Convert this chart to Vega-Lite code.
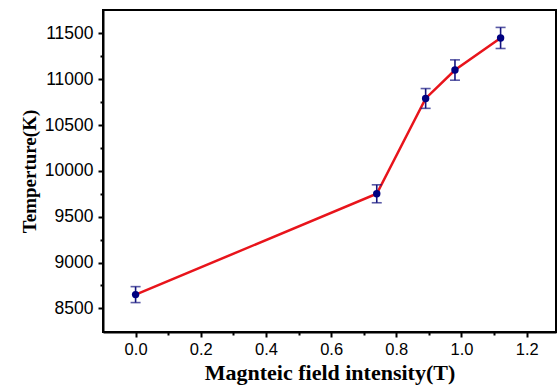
{
  "$schema": "https://vega.github.io/schema/vega-lite/v6.json",
  "width": 453,
  "height": 322,
  "autosize": "none",
  "padding": {"left": 103, "top": 10, "right": 1, "bottom": 53},
  "background": "white",
  "config": {
    "view": {"stroke": "#000", "strokeWidth": 2},
    "axis": {
      "domainColor": "#000", "domainWidth": 2, "tickColor": "#000", "tickWidth": 2,
      "grid": false, "labelFont": "Liberation Sans", "labelFontSize": 16, "labelColor": "#000",
      "titleFont": "Liberation Serif", "titleFontWeight": "bold", "titleColor": "#000"
    }
  },
  "data": {
    "values": [
      {"B": 0.0, "T": 8650, "lo": 8563, "hi": 8737},
      {"B": 0.74, "T": 9750, "lo": 9652, "hi": 9848},
      {"B": 0.89, "T": 10790, "lo": 10682, "hi": 10898},
      {"B": 0.98, "T": 11100, "lo": 10989, "hi": 11211},
      {"B": 1.12, "T": 11450, "lo": 11335, "hi": 11565}
    ]
  },
  "resolve": {"axis": {"x": "independent", "y": "independent"}},
  "layer": [
    {
      "mark": {"type": "line", "color": "#e8141b", "strokeWidth": 2.5},
      "encoding": {
        "x": {"field": "B", "type": "quantitative",
          "scale": {"domain": [-0.1, 1.29], "nice": false, "zero": false},
          "axis": {"orient": "bottom", "values": [0, 0.2, 0.4, 0.6, 0.8, 1.0, 1.2], "format": ".1f", "tickSize": 5, "labelPadding": 4, "labelFontSize": 16.5, "title": "Magnteic field intensity(T)", "titleFontSize": 22, "titlePadding": 5}},
        "y": {"field": "T", "type": "quantitative",
          "scale": {"domain": [8242, 11755], "nice": false, "zero": false},
          "axis": {"orient": "left", "values": [8500, 9000, 9500, 10000, 10500, 11000, 11500], "format": "d", "tickSize": 5, "labelPadding": 5, "labelFontSize": 17.5, "title": "Temperture(K)", "titleFontSize": 19, "titlePadding": 5}}
      }
    },
    {
      "mark": {"type": "point", "opacity": 0},
      "encoding": {
        "x": {"field": "B", "type": "quantitative",
          "axis": {"orient": "bottom", "values": [0.1, 0.3, 0.5, 0.7, 0.9, 1.1], "labels": false, "domain": false, "tickSize": 3, "title": null}},
        "y": {"field": "T", "type": "quantitative",
          "axis": {"orient": "left", "values": [8750, 9250, 9750, 10250, 10750, 11250], "labels": false, "domain": false, "tickSize": 3, "title": null}}
      }
    },
    {
      "mark": {"type": "rule", "color": "#14147f", "strokeWidth": 1.6},
      "encoding": {
        "x": {"field": "B", "type": "quantitative", "axis": null},
        "y": {"field": "lo", "type": "quantitative", "axis": null},
        "y2": {"field": "hi"}
      }
    },
    {
      "mark": {"type": "tick", "orient": "horizontal", "size": 10, "thickness": 1.6, "color": "#14147f"},
      "encoding": {
        "x": {"field": "B", "type": "quantitative", "axis": null},
        "y": {"field": "lo", "type": "quantitative", "axis": null}
      }
    },
    {
      "mark": {"type": "tick", "orient": "horizontal", "size": 10, "thickness": 1.6, "color": "#14147f"},
      "encoding": {
        "x": {"field": "B", "type": "quantitative", "axis": null},
        "y": {"field": "hi", "type": "quantitative", "axis": null}
      }
    },
    {
      "mark": {"type": "point", "filled": true, "size": 55, "color": "#000080", "opacity": 1},
      "encoding": {
        "x": {"field": "B", "type": "quantitative", "axis": null},
        "y": {"field": "T", "type": "quantitative", "axis": null}
      }
    }
  ]
}
